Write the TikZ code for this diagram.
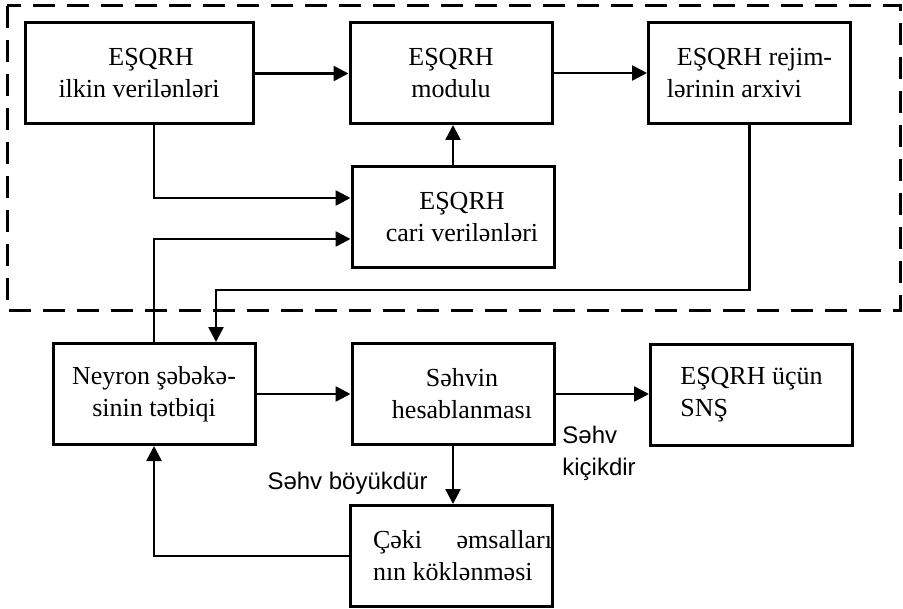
\documentclass[tikz,border=0pt]{standalone}
\usepackage{fontspec}
\setmainfont{Liberation Serif}
\newfontfamily\labelfont{Liberation Sans}
\usetikzlibrary{positioning, arrows.meta, calc}

\begin{document}
\begin{tikzpicture}[
    x=0.5pt, y=-0.5pt,
    blok_box/.style = {draw, rectangle, line width=1.5pt, minimum width=101pt, minimum height=50.5pt, align=center, font=\fontsize{13}{16}\selectfont},
    wide_box/.style = {blok_box, minimum width=114pt},
    % Style for connectors
    arrow_main/.style = {-{Triangle[length=7.5pt, width=7.5pt]}, line width=1.3pt},
    frame_dash/.style = {line width=1.5pt, dash pattern=on 11pt off 6pt},
    label_txt/.style = {inner sep=0pt, align=left, font=\labelfont\fontsize{12}{16}\selectfont}
]
\useasboundingbox (0,0) rectangle (903,609);

% --- Dashed frame round the upper block ---
\draw[frame_dash] (7,6) rectangle (900,310);

% --- Upper layer: data and module ---
\node[wide_box] (ilkin) at (139,73.5) {\hspace*{12pt}EŞQRH\\ilkin verilənləri};
\node[blok_box] (modul) at (451,73) {EŞQRH\\modulu};
\node[blok_box, align=left] (arxiv) at (749.5,73) {\hspace*{5pt}EŞQRH rejim-\\lərinin arxivi};
\node[blok_box] (cari) at (453,217) {\hspace*{9pt}EŞQRH\\\hspace*{9pt}cari verilənləri};

% --- Lower layer: network and error ---
\node[blok_box] (neyron) at (154,394) {Neyron şəbəkə-\\sinin tətbiqi};
\node[blok_box] (sehv) at (453,394) {\hspace*{9pt}Səhvin\\\hspace*{9pt}hesablanması};
\node[blok_box, align=left] (sns) at (751.5,394.5) {EŞQRH üçün\\SNŞ};
\node[blok_box, align=left, inner xsep=0pt] (ceki) at (451,556) {\hspace*{11.5pt}\hbox to 89.5pt{Çəki\hfill əmsalları}\\\hspace*{11.5pt}nın köklənməsi};

% --- Labels of the branches ---
\node[label_txt, anchor=east] (boyuk) at (428,483) {Səhv böyükdür};
\node[label_txt, anchor=west] (kicik) at (562,453) {Səhv\\kiçikdir};

% --- Arrows ---
\draw[arrow_main] (ilkin.east) -- (ilkin.east -| modul.west);
\draw[arrow_main] (modul.east) -- (modul.east -| arxiv.west);
\draw[arrow_main] (cari.north) -- (cari.north |- modul.south);
\draw[arrow_main] (ilkin.south -| neyron.north) |- ([yshift=9.5pt]cari.west);
\draw[arrow_main] (neyron.north) |- ([yshift=-11pt]cari.west);
\coordinate (donus) at (arxiv.south |- 0,290);
\draw[arrow_main] (arxiv.south) -- (donus) -| ([xshift=31pt]neyron.north);
\draw[arrow_main] (neyron.east) -- (sehv.west);
\draw[arrow_main] (sehv.east) -- (sehv.east -| sns.west);
\draw[arrow_main] (sehv.south) -- (sehv.south |- ceki.north);
\draw[arrow_main] (ceki.west) -| (neyron.south);

\end{tikzpicture}
\end{document}
